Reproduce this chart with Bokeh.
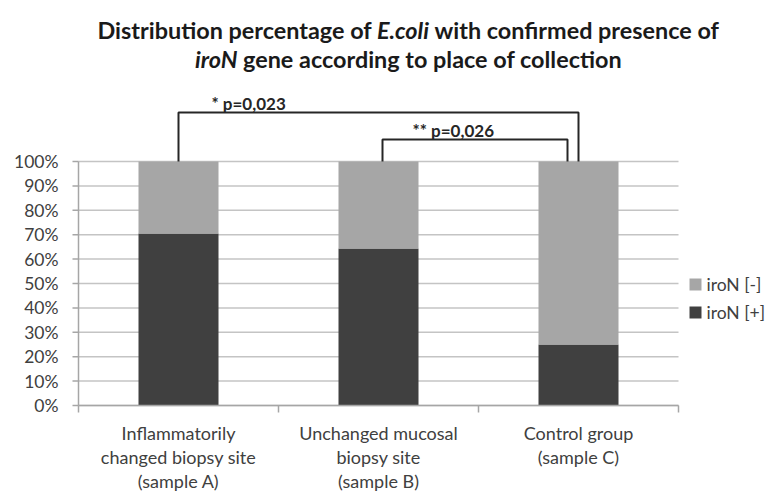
import glob
import os

from bokeh.plotting import figure
from bokeh.models import Range1d, ColumnDataSource
from bokeh.core.properties import value
from bokeh.embed import file_html
from bokeh.resources import INLINE

# ---------------- data ----------------
categories = [
    ["Inflammatorily", "changed biopsy site", "(sample A)"],
    ["Unchanged mucosal", "biopsy site", "(sample B)"],
    ["Control group", "(sample C)"],
]
iron_pos = [70.5, 64.3, 25.0]     # iroN [+] %
iron_neg = [29.5, 35.7, 75.0]     # iroN [-] %
y_ticks = [0, 10, 20, 30, 40, 50, 60, 70, 80, 90, 100]
y_tick_labels = ["0%", "10%", "20%", "30%", "40%", "50%", "60%", "70%", "80%", "90%", "100%"]
comp_from = [0, 1]
comp_to = [2, 2]
comp_text = ["* p=0,023", "** p=0,026"]
series_names = ["iroN [+]", "iroN [-]"]

# ---------------- layout (pixel geometry of the picture) ----------------
W, H = 772, 497
AX_L, AX_B = 78, 405           # left axis x, bottom axis y (px)
PXX, PXY = 200.0, 2.44         # px per category, px per percent


def X(px):
    return (px - AX_L) / PXX


def Y(py):
    return (AX_B - py) / PXY


FONT = "Lato"
TXT = "#404040"
AXC = "#a6a6a6"


def find_font(fname):
    roots = ["/usr/share/fonts", "/usr/local/share/fonts",
             os.path.expanduser("~/.fonts"), os.path.expanduser("~/.local/share/fonts")]
    for r in roots:
        try:
            hits = glob.glob(os.path.join(r, "**", fname), recursive=True)
        except Exception:
            hits = []
        if hits:
            return hits[0]
    return None


FONT_FILES = {
    "bold": find_font("Lato-Bold.ttf"),
    "bold italic": find_font("Lato-BoldItalic.ttf"),
}


def measure(s, style, size):
    path = FONT_FILES.get(style)
    if path:
        try:
            from PIL import ImageFont
            f = ImageFont.truetype(path, 200)
            return f.getlength(s) * size / 200.0
        except Exception:
            pass
    return len(s) * 0.53 * size


# ---------------- figure: frame covers the whole canvas ----------------
p = figure(width=W, height=H, output_backend="svg", toolbar_location=None,
           x_range=Range1d(X(0), X(W)), y_range=Range1d(Y(H), Y(0)),
           min_border=0)
p.outline_line_color = None
p.axis.visible = False
p.grid.visible = False
p.background_fill_color = "white"
p.border_fill_color = "white"

# gridlines
p.segment(x0=[0] * len(y_ticks), x1=[3] * len(y_ticks), y0=y_ticks, y1=y_ticks,
          line_color="#c4c4c4", line_width=1.5)

# bars
n = len(categories)
src = ColumnDataSource(dict(x=[i + 0.5 for i in range(n)], pos=iron_pos, neg=iron_neg))
rs = p.vbar_stack(["pos", "neg"], x="x", width=0.4, source=src,
                  color=["#404040", "#a6a6a6"], line_width=0)

# y axis
p.segment(x0=[0], x1=[0], y0=[y_ticks[0]], y1=[y_ticks[-1]], line_color=AXC, line_width=1.5)
p.segment(x0=[X(72)] * len(y_ticks), x1=[0] * len(y_ticks), y0=y_ticks, y1=y_ticks,
          line_color=AXC, line_width=1.5)
p.text(x=[X(58)] * len(y_ticks), y=y_ticks, text=y_tick_labels,
       text_align="right", text_baseline="middle", text_font=value(FONT),
       text_font_size="17.5px", text_color=TXT)

# x axis
xb = list(range(n + 1))
p.segment(x0=[0], x1=[n], y0=[0], y1=[0], line_color=AXC, line_width=1.5)
p.segment(x0=xb, x1=xb, y0=[0] * len(xb), y1=[Y(AX_B + 7)] * len(xb),
          line_color=AXC, line_width=1.5)

# category labels
line_img_y = [432, 456, 480]
cx, cy, ct = [], [], []
for i, lines in enumerate(categories):
    for j, t in enumerate(lines):
        cx.append(i + 0.5)
        cy.append(Y(line_img_y[j]))
        ct.append(t)
p.text(x=cx, y=cy, text=ct, text_align="center", text_baseline="middle",
       text_font=value(FONT), text_font_size="18px", text_color=TXT)

# significance brackets
bracket_h = [Y(112), Y(139)]
bracket_dx = [(0, 0), (4 / PXX, -11 / PXX)]
label_dx = [33 / PXX, 30 / PXX]
for k in range(len(comp_text)):
    x0 = comp_from[k] + 0.5 + bracket_dx[k][0]
    x1 = comp_to[k] + 0.5 + bracket_dx[k][1]
    top0 = iron_pos[comp_from[k]] + iron_neg[comp_from[k]]
    top1 = iron_pos[comp_to[k]] + iron_neg[comp_to[k]]
    p.line([x0, x0, x1, x1], [top0, bracket_h[k], bracket_h[k], top1],
           line_color="#262626", line_width=2)
    p.text(x=[x0 + label_dx[k]], y=[bracket_h[k] + 9 / PXY], text=[comp_text[k]],
           text_align="left", text_baseline="middle", text_font=value(FONT),
           text_font_style="bold", text_font_size="17px", text_color="#262626")

# legend (manual)
leg_y = [Y(284), Y(312)]
leg_names = [series_names[1], series_names[0]]
leg_cols = ["#a6a6a6", "#404040"]
p.rect(x=[X(695)] * 2, y=leg_y, width=12, height=12, width_units="screen",
       height_units="screen", fill_color=leg_cols, line_color=None)
p.text(x=[X(706)] * 2, y=leg_y, text=leg_names, text_align="left",
       text_baseline="middle", text_font=value(FONT), text_font_size="17.5px",
       text_color=TXT)

# title (mixed bold / bold italic)
title_lines = [
    [("Distribution percentage of", "bold"), ("E.coli", "bold italic"),
     ("with confirmed presence of", "bold")],
    [("iroN", "bold italic"), ("gene according to place of collection", "bold")],
]
title_baseline_img = [29, 58]
title_center_img = 407.5
target_w = 621.0


def line_width(segs, size):
    w = sum(measure(t, s, size) for t, s in segs)
    w += (len(segs) - 1) * measure(" ", "bold", size)
    return w


tsize = target_w / line_width(title_lines[0], 1.0)
tsize = max(15.0, min(24.0, tsize))
for li, segs in enumerate(title_lines):
    total = line_width(segs, tsize)
    xpx = title_center_img - total / 2.0
    sp = measure(" ", "bold", tsize)
    for t, s in segs:
        p.text(x=[X(xpx)], y=[Y(title_baseline_img[li])], text=[t],
               text_align="left", text_baseline="alphabetic",
               text_font=value(FONT), text_font_style=s,
               text_font_size="%.1fpx" % tsize, text_color="#1a1a1a")
        xpx += measure(t, s, tsize) + sp

open("out.html", "w").write(file_html(p, INLINE))
